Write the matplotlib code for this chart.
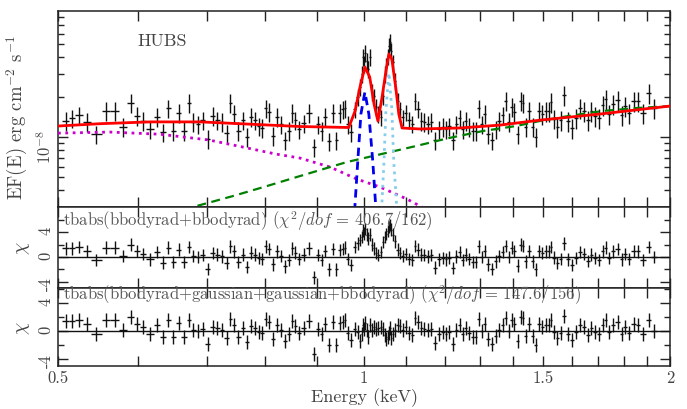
import matplotlib
matplotlib.use('Agg')
import matplotlib.pyplot as plt
import numpy as np
from matplotlib.ticker import FixedLocator, NullFormatter, NullLocator

plt.rcParams['font.family'] = 'serif'
plt.rcParams['font.serif'] = ['cmr10']
plt.rcParams['mathtext.fontset'] = 'cm'
plt.rcParams['axes.unicode_minus'] = False
plt.rcParams['axes.formatter.use_mathtext'] = True

# spectral bins (keV edges), unfolded flux in 1e-8 erg/cm2/s, and errors
edges = [0.505, 0.513, 0.520, 0.529, 0.539, 0.552, 0.563, 0.574, 0.585, 0.594,
         0.602, 0.611, 0.621, 0.630, 0.638, 0.646, 0.653, 0.661, 0.669, 0.676,
         0.683, 0.690, 0.698, 0.706, 0.714, 0.721, 0.729, 0.736, 0.742, 0.749,
         0.756, 0.763, 0.771, 0.778, 0.784, 0.791, 0.798, 0.803, 0.810, 0.818,
         0.825, 0.832, 0.840, 0.847, 0.853, 0.859, 0.867, 0.877, 0.888, 0.897,
         0.905, 0.912, 0.919, 0.928, 0.936, 0.943, 0.950, 0.955, 0.961, 0.967,
         0.975, 0.983, 0.988, 0.993, 0.996, 0.998, 1.001, 1.004, 1.008, 1.011,
         1.015, 1.020, 1.025, 1.030, 1.036, 1.041, 1.046, 1.050, 1.054, 1.057,
         1.059, 1.062, 1.066, 1.070, 1.076, 1.082, 1.088, 1.096, 1.103, 1.112,
         1.119, 1.126, 1.135, 1.142, 1.150, 1.160, 1.169, 1.180, 1.190, 1.200,
         1.208, 1.217, 1.228, 1.238, 1.247, 1.255, 1.264, 1.274, 1.284, 1.292,
         1.301, 1.310, 1.319, 1.330, 1.342, 1.352, 1.363, 1.374, 1.383, 1.393,
         1.401, 1.410, 1.422, 1.430, 1.438, 1.448, 1.460, 1.471, 1.481, 1.492,
         1.504, 1.515, 1.523, 1.532, 1.544, 1.556, 1.567, 1.580, 1.594, 1.608,
         1.623, 1.637, 1.652, 1.667, 1.681, 1.694, 1.710, 1.723, 1.735, 1.749,
         1.767, 1.785, 1.799, 1.813, 1.832, 1.851, 1.870, 1.893, 1.917, 1.943]

flux = [1.32, 1.39, 1.46, 1.30, 1.05, 1.57, 1.57, 1.19, 1.80, 1.44,
        1.32, 1.15, 1.41, 1.09, 1.65, 1.11, 1.52, 1.11, 1.80, 1.30,
        1.25, 1.34, 0.97, 1.44, 1.34, 1.30, 1.07, 1.80, 1.49, 1.11,
        1.34, 1.00, 1.41, 1.34, 1.21, 1.17, 1.65, 1.54, 1.02, 1.41,
        1.25, 0.95, 1.11, 1.52, 1.34, 1.15, 1.27, 1.52, 0.84, 1.25,
        1.11, 1.41, 0.93, 1.52, 0.95, 1.52, 1.62, 1.65, 1.25, 1.09,
        1.62, 2.00, 2.38, 2.98, 4.00, 3.54, 4.28, 3.73, 3.25, 4.00,
        2.18, 2.03, 1.68, 1.49, 1.41, 2.03, 2.98, 3.42, 4.06, 4.83,
        5.18, 4.43, 3.66, 2.64, 1.87, 1.62, 1.41, 1.52, 1.34, 1.25,
        1.87, 1.62, 1.32, 1.30, 1.25, 1.30, 0.95, 1.15, 1.19,
        1.15, 1.21, 0.95, 1.25, 1.39, 1.15, 1.32, 1.19, 1.11, 1.11,
        1.65, 1.25, 1.49, 1.05, 0.95, 1.15, 1.32, 1.46, 1.87, 1.30,
        1.68, 1.54, 1.05, 1.87, 1.80, 1.19, 1.57, 1.19, 1.00, 1.57,
        1.49, 1.57, 1.57, 1.83, 1.37, 1.19, 1.34, 2.07, 1.32, 1.17,
        1.39, 1.65, 1.57, 1.34, 1.57, 1.44, 1.39, 1.74, 1.93, 1.49,
        1.77, 1.90, 1.46, 1.71, 1.52, 1.87, 1.87, 1.52, 2.14, 1.65]

flux_err = [0.21, 0.22, 0.23, 0.21, 0.17, 0.25, 0.25, 0.19, 0.29, 0.23,
            0.21, 0.18, 0.23, 0.17, 0.26, 0.18, 0.24, 0.18, 0.29, 0.21,
            0.20, 0.21, 0.16, 0.23, 0.21, 0.21, 0.17, 0.29, 0.24, 0.18,
            0.21, 0.16, 0.23, 0.21, 0.19, 0.19, 0.26, 0.25, 0.16, 0.23,
            0.20, 0.15, 0.18, 0.24, 0.21, 0.18, 0.20, 0.24, 0.13, 0.20,
            0.18, 0.23, 0.15, 0.24, 0.15, 0.24, 0.26, 0.26, 0.20, 0.17,
            0.23, 0.28, 0.33, 0.42, 0.56, 0.50, 0.60, 0.52, 0.46, 0.56,
            0.31, 0.28, 0.24, 0.21, 0.20, 0.28, 0.42, 0.48, 0.57, 0.68,
            0.73, 0.62, 0.51, 0.37, 0.26, 0.23, 0.20, 0.21, 0.19, 0.18,
            0.28, 0.24, 0.21, 0.21, 0.20, 0.21, 0.15, 0.18, 0.19,
            0.18, 0.19, 0.15, 0.20, 0.22, 0.18, 0.21, 0.19, 0.18, 0.18,
            0.26, 0.20, 0.24, 0.17, 0.15, 0.18, 0.21, 0.23, 0.30, 0.21,
            0.27, 0.25, 0.17, 0.30, 0.29, 0.19, 0.25, 0.19, 0.16, 0.25,
            0.25, 0.27, 0.27, 0.31, 0.23, 0.20, 0.23, 0.35, 0.22, 0.20,
            0.24, 0.28, 0.27, 0.23, 0.27, 0.24, 0.24, 0.30, 0.33, 0.25,
            0.30, 0.32, 0.25, 0.29, 0.26, 0.32, 0.32, 0.26, 0.36, 0.28]

# residuals, tbabs(bbodyrad+bbodyrad)
chi_cont = [1.4, 1.4, 1.6, 1.0, -0.5, 1.5, 1.5, 0.2, 2.0, 1.0,
            0.5, -0.4, 0.8, -0.9, 1.5, -0.8, 1.2, -0.8, 1.6, 0.2,
            0.0, 0.3, -1.9, 0.6, 0.4, 0.1, -1.0, 1.7, 0.9, -0.8,
            0.4, -1.6, 0.7, 0.4, -0.2, -0.3, 1.7, 1.3, -1.2, 0.9,
            0.2, -1.5, -0.5, 1.4, 0.7, -0.3, 0.4, 1.4, -3.3, 0.3,
            -0.5, 1.0, -2.0, 1.3, -2.0, 1.1, 1.3, 1.5, -0.3, -1.3,
            1.6, 2.2, 2.7, 3.2, 4.3, 3.8, 4.5, 3.6, 3.0, 3.6,
            2.0, 1.4, 0.6, 0.3, 0.8, 2.4, 3.2, 3.7, 4.2, 4.8,
            5.2, 4.4, 3.6, 2.5, 1.2, 0.6, 0.2, 0.5, -0.3, -0.5,
            1.8, 1.2, 0.4, 0.3, 0.1, 0.3, -1.7, -0.4, -0.2,
            -0.4, -0.1, -1.8, 0.1, 0.8, -0.5, 0.4, -0.3, -0.8, -0.8,
            1.7, 0.0, 1.0, -1.2, -1.9, -0.7, 0.2, 0.8, 1.8, 0.0,
            1.5, 1.0, -1.4, 2.0, 1.8, -0.7, 1.0, -0.7, -2.0, 1.0,
            0.6, 0.9, 0.9, 1.6, -0.1, -1.0, -0.3, 2.2, -0.4, -1.3,
            -0.2, 0.8, 0.5, -0.6, 0.4, -0.2, -0.5, 0.9, 1.5, -0.2,
            0.9, 1.3, -0.4, 0.5, -0.3, 1.0, 0.9, -0.5, 1.6, 0.0]

# residuals, tbabs(bbodyrad+gaussian+gaussian+bbodyrad)
chi_line = [1.4, 1.4, 1.6, 1.0, -0.5, 1.5, 1.5, 0.2, 2.0, 1.0,
            0.5, -0.4, 0.8, -0.9, 1.5, -0.8, 1.2, -0.8, 1.6, 0.2,
            0.0, 0.3, -1.9, 0.6, 0.4, 0.1, -1.0, 1.7, 0.9, -0.8,
            0.4, -1.6, 0.7, 0.4, -0.2, -0.3, 1.7, 1.3, -1.2, 0.9,
            0.2, -1.5, -0.5, 1.4, 0.7, -0.3, 0.4, 1.4, -3.3, 0.3,
            -0.5, 1.0, -2.0, 1.3, -2.0, 1.1, 1.3, 1.5, -0.3, -1.3,
            0.3, -0.2, -1.5, -0.5, 0.8, 0.3, 1.2, 0.2, -0.8, 0.9,
            0.2, 0.6, 0.3, 0.4, 0.5, 0.3, -0.6, -1.2, -0.9, -0.3,
            0.4, -1.0, -0.5, 0.2, 0.8, 0.7, 0.2, 0.6, -0.3, -0.6,
            1.9, 1.3, 0.4, 0.3, 0.1, 0.3, -1.7, -0.4, -0.2,
            -0.4, -0.1, -1.8, 0.1, 0.8, -0.5, 0.4, -0.3, -0.8, -0.8,
            1.7, 0.0, 1.0, -1.2, -1.9, -0.7, 0.2, 0.8, 1.8, 0.0,
            1.5, 1.0, -1.4, 2.0, 1.8, -0.7, 1.0, -0.7, -2.0, 1.0,
            0.6, 0.9, 0.9, 1.6, -0.1, -1.0, -0.3, 2.2, -0.4, -1.3,
            -0.2, 0.8, 0.5, -0.6, 0.4, -0.2, -0.5, 0.9, 1.5, -0.2,
            0.9, 1.3, -0.4, 0.5, -0.3, 1.0, 0.9, -0.5, 1.6, 0.0]

# model curves (keV, 1e-8 erg/cm2/s)
model_e = [0.500, 0.550, 0.616, 0.690, 0.772, 0.865, 0.966, 0.980, 0.991, 1.002,
           1.013, 1.023, 1.032, 1.041, 1.051, 1.058, 1.065, 1.075, 1.082, 1.090,
           1.135, 1.243, 1.361, 1.490, 1.707, 2.000]
model_f = [1.21, 1.26, 1.30, 1.30, 1.25, 1.20, 1.18, 1.57, 2.38, 3.36,
           2.83, 1.77, 1.32, 1.93, 3.13, 4.21, 3.86, 2.30, 1.49, 1.17,
           1.15, 1.17, 1.23, 1.34, 1.49, 1.71]
bb1_e = [0.500, 0.5625, 0.630, 0.704, 0.760, 0.819, 0.865, 0.926, 0.984, 1.037,
         1.102, 1.135, 1.188]
bb1_f = [1.07, 1.09, 1.05, 0.950, 0.841, 0.745, 0.695, 0.595, 0.483, 0.421,
         0.342, 0.303, 0.250]
bb2_e = [0.644, 0.679, 0.743, 0.8025, 0.865, 0.962, 1.125, 1.212, 1.309, 1.4105,
         1.489, 1.590, 1.718, 1.851, 2.000]
bb2_f = [0.264, 0.298, 0.360, 0.428, 0.509, 0.649, 0.856, 0.983, 1.11, 1.21,
         1.32, 1.44, 1.57, 1.65, 1.71]
g1_e = [0.973, 0.9795, 0.986, 0.993, 1.002, 1.011, 1.020, 1.027, 1.034]
g1_f = [0.171, 0.298, 0.660, 1.49, 2.18, 1.49, 0.660, 0.298, 0.171]
g2_e = [1.037, 1.041, 1.046, 1.051, 1.058, 1.065, 1.070, 1.077, 1.082]
g2_f = [0.171, 0.298, 0.627, 1.62, 3.03, 1.62, 0.627, 0.298, 0.171]

xtick_vals = [0.5, 0.6, 0.7, 0.8, 0.9, 1.0, 1.1, 1.2, 1.3, 1.4, 1.5, 1.6, 1.7, 1.8, 1.9, 2.0]
xtick_labels = ['0.5', '', '', '', '', '1', '', '', '', '', '1.5', '', '', '', '', '2']

lo = np.array(edges[:-1])
hi = np.array(edges[1:])
cen = np.sqrt(lo * hi)
xerr = [cen - lo, hi - cen]
scale = 1e-8

txt = '#444444'
fig = plt.figure(figsize=(6.87, 4.10), dpi=100)
ax1 = fig.add_axes([0.0844, 0.4927, 0.8909, 0.4780])
ax2 = fig.add_axes([0.0844, 0.2951, 0.8909, 0.1976])
ax3 = fig.add_axes([0.0844, 0.1049, 0.8909, 0.1902])

# top: unfolded spectrum
ax1.errorbar(cen, np.array(flux) * scale, xerr=xerr, yerr=np.array(flux_err) * scale,
             fmt='none', ecolor='#111111', elinewidth=1.0, capsize=0, zorder=2)
ax1.plot(bb1_e, np.array(bb1_f) * scale, ':', color='#cc00cc', lw=2.0, zorder=3)
ax1.plot(bb2_e, np.array(bb2_f) * scale, '--', color='#008000', lw=1.6, dashes=(4, 2.5), zorder=3)
ax1.plot(g1_e, np.array(g1_f) * scale, '--', color='#0000ee', lw=2.0, dashes=(3, 2), zorder=3)
ax1.plot(g2_e, np.array(g2_f) * scale, ':', color='#87ceeb', lw=2.0, zorder=3)
ax1.plot(model_e, np.array(model_f) * scale, '-', color='#ff0000', lw=2.0, zorder=4)
ax1.set_yscale('log')
ax1.set_ylim(2.98e-9, 8.86e-8)
ax1.set_yticks([1e-8])
ax1.set_yticklabels([r'$10^{-8}$'])
ax1.yaxis.set_minor_locator(FixedLocator([3e-9, 4e-9, 5e-9, 6e-9, 7e-9, 8e-9, 9e-9,
                                          2e-8, 3e-8, 4e-8, 5e-8, 6e-8, 7e-8, 8e-8]))
ax1.yaxis.set_minor_formatter(NullFormatter())
ax1.set_ylabel(r'EF(E) erg cm$^{-2}$ s$^{-1}$', fontsize=13.5, color=txt)
ax1.yaxis.set_label_coords(-0.046, 0.46)
ax1.text(0.1307, 0.8265, 'HUBS', transform=ax1.transAxes, fontsize=13, color=txt, va='baseline')

# residual panels
for ax, chi, lims, title in [
        (ax2, chi_cont, (-5.0, 8.06), r'tbabs(bbodyrad+bbodyrad) ($\chi^2/dof$ = 406.7/162)'),
        (ax3, chi_line, (-5.0, 6.14), r'tbabs(bbodyrad+gaussian+gaussian+bbodyrad) ($\chi^2/dof$ = 147.6/156)')]:
    ax.errorbar(cen, chi, xerr=xerr, yerr=1.0, fmt='none', ecolor='#111111',
                elinewidth=1.0, capsize=0)
    ax.axhline(0, color='#111111', lw=1.0)
    ax.set_ylim(*lims)
    ax.set_yticks([-4, 0, 4])
    ax.set_yticklabels(['-4', '0', '4'])
    ax.yaxis.set_minor_locator(FixedLocator([-4, -2, 0, 2, 4, 6]))
    ax.set_ylabel(r'$\chi$', fontsize=14, color=txt)
    ax.yaxis.set_label_coords(-0.042, 0.5)
    ax.text(0.008, 0.78 if ax is ax2 else 0.86, title, transform=ax.transAxes,
            fontsize=12, color='#555555', va='baseline')

for ax in (ax1, ax2, ax3):
    ax.set_xscale('log')
    ax.set_xlim(0.5, 2.0)
    ax.set_xticks(xtick_vals)
    ax.set_xticklabels(xtick_labels)
    ax.xaxis.set_minor_locator(NullLocator())
    ax.tick_params(which='both', direction='in', top=True, right=True, width=1.0,
                   colors='#222222', labelcolor=txt, labelsize=12)
    ax.tick_params(axis='x', which='major', length=7, pad=3)
    ax.tick_params(axis='y', which='major', length=7, pad=3, labelrotation=90)
    ax.tick_params(axis='y', which='minor', length=4)
    for s in ax.spines.values():
        s.set_linewidth(1.1)
        s.set_color('#222222')

ax1.tick_params(labelbottom=False)
ax2.tick_params(labelbottom=False)
ax3.set_xlabel('Energy (keV)', fontsize=13, color=txt, labelpad=1)

fig.savefig('out.png', dpi=100)
